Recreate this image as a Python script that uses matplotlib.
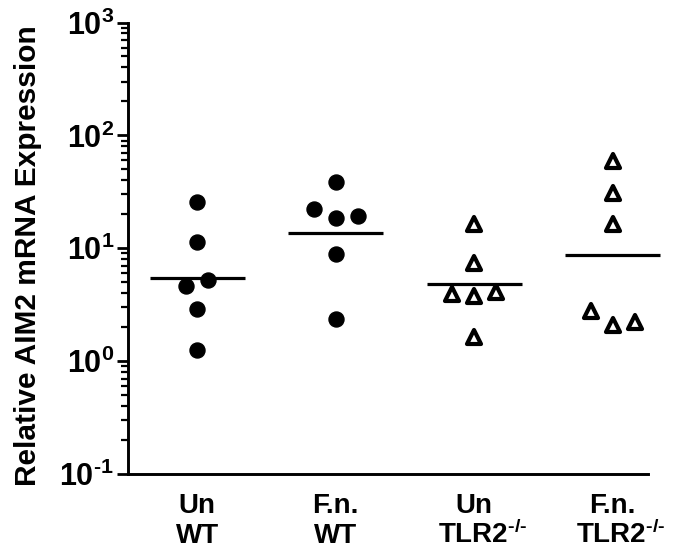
import matplotlib
matplotlib.use("Agg")
import matplotlib.pyplot as plt
from matplotlib.markers import MarkerStyle
from matplotlib.ticker import LogLocator, NullFormatter, FixedLocator
import matplotlib.transforms as mtransforms

plt.rcParams['font.family'] = ['Liberation Sans', 'DejaVu Sans']
plt.rcParams['font.weight'] = 'bold'
plt.rcParams['mathtext.fontset'] = 'custom'
plt.rcParams['mathtext.rm'] = 'Liberation Sans:bold'
plt.rcParams['mathtext.it'] = 'Liberation Sans:bold'
plt.rcParams['mathtext.bf'] = 'Liberation Sans:bold'
plt.rcParams['mathtext.sf'] = 'Liberation Sans:bold'
plt.rcParams['mathtext.default'] = 'rm'

# ---- data ----
groups_line1 = ["Un", "F.n.", "Un", "F.n."]
groups_line2 = ["WT", "WT", r"TLR2$^{\text{-/-}}$", r"TLR2$^{\text{-/-}}$"]
un_wt = [25.8, 11.4, 5.2, 4.6, 2.9, 1.25]
fn_wt = [38.8, 22.1, 18.4, 19.4, 8.9, 2.36]
un_tlr2 = [16.3, 7.35, 3.95, 3.8, 4.1, 1.62]
fn_tlr2 = [59.4, 31.1, 16.3, 2.8, 2.1, 2.23]
group_means = [5.4, 13.7, 4.8, 8.7]
ytick_values = [0.1, 1, 10, 100, 1000]
ytick_labels = [r"10$^{\text{-1}}$", r"10$^{0}$", r"10$^{1}$", r"10$^{2}$", r"10$^{3}$"]

# ---- layout (horizontal spread of overlapping points) ----
offsets = [
    [0, 0, 0.08, -0.08, 0, 0],
    [0, -0.16, 0, 0.16, 0, 0],
    [0, 0, -0.16, 0, 0.16, 0],
    [0, 0, 0, -0.16, 0, 0.16],
]
series = [un_wt, fn_wt, un_tlr2, fn_tlr2]
filled = [True, True, False, False]

fig = plt.figure(figsize=(6.87, 5.53), dpi=100)
ax = fig.add_axes([128/687, 1-474/553, 520/687, 451.5/553])

tri = MarkerStyle('^', joinstyle='round')
for i, vals in enumerate(series):
    xs = [i + o for o in offsets[i]]
    if filled[i]:
        ax.plot(xs, vals, linestyle='none', marker='o', ms=10.8,
                color='black', clip_on=False, zorder=3)
    else:
        ax.plot(xs, vals, linestyle='none', marker=tri, ms=10,
                markerfacecolor='white', markeredgecolor='black',
                markeredgewidth=3, clip_on=False, zorder=3)
    ax.plot([i - 0.342, i + 0.342], [group_means[i]] * 2, color='black',
            lw=2.3, solid_capstyle='butt', clip_on=False, zorder=2)

ax.set_yscale('log')
ax.set_ylim(0.1, 1000)
ax.set_xlim(-0.5, 3.255)

ax.yaxis.set_major_locator(FixedLocator(ytick_values))
ax.set_yticklabels(ytick_labels, fontsize=22)
ax.yaxis.set_minor_locator(LogLocator(base=10, subs=range(2, 10)))
ax.yaxis.set_minor_formatter(NullFormatter())
ax.tick_params(axis='y', which='major', direction='out', length=8, width=2, pad=2)
ax.tick_params(axis='y', which='minor', direction='out', length=5, width=1.6)
ax.set_xticks([])

for s in ['top', 'right']:
    ax.spines[s].set_visible(False)
for s in ['left', 'bottom']:
    ax.spines[s].set_linewidth(2.1)

trans = mtransforms.blended_transform_factory(ax.transData, ax.transAxes)
for i in range(4):
    ax.text(i, -39/451.5, groups_line1[i], transform=trans, ha='center',
            va='baseline', fontsize=20, fontweight='bold')
    shift = 0.06 if 'TLR2' in groups_line2[i] else 0.0
    ax.text(i + shift, -69/451.5, groups_line2[i], transform=trans, ha='center',
            va='baseline', fontsize=20, fontweight='bold')

fig.text(28/687, 1-256/553, "Relative AIM2 mRNA Expression", rotation=90,
         ha='center', va='center', fontsize=21.5, fontweight='bold')

fig.savefig("out.png", dpi=100, facecolor='white')
